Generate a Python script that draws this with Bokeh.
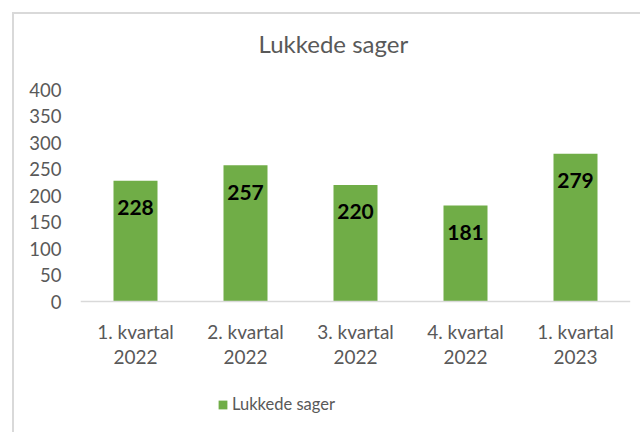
from bokeh.plotting import figure
from bokeh.models import ColumnDataSource, Range1d, FactorRange, LabelSet, Legend, LegendItem, FixedTicker, Label
from bokeh.core.properties import value
from bokeh.embed import file_html
from bokeh.resources import INLINE

categories = ["1. kvartal\n2022", "2. kvartal\n2022", "3. kvartal\n2022", "4. kvartal\n2022", "1. kvartal\n2023"]
values = [228, 257, 220, 181, 279]
y_ticks = [0, 50, 100, 150, 200, 250, 300, 350, 400]
series_name = "Lukkede sager"
title_text = "Lukkede sager"

src = ColumnDataSource(dict(cat=categories, val=values, lab=[str(v) for v in values]))

FONT = "Lato"
GREY = "#595959"

p = figure(width=628, height=420, output_backend="svg", toolbar_location=None,
           x_range=FactorRange(*categories, range_padding=0), y_range=Range1d(-232, 541.5),
           min_border_left=66, min_border_right=12, min_border_top=0, min_border_bottom=10)
p.styles = {"margin-left": "12px", "margin-top": "12px",
            "border-left": "2px solid #d9d9d9", "border-top": "2px solid #d9d9d9"}

p.outline_line_color = None
p.background_fill_color = "white"
p.border_fill_color = "white"
p.grid.grid_line_color = None

title = Label(text=title_text, x=178, y=381, x_units="screen", y_units="screen",
              text_align="left", text_baseline="middle",
              text_font=FONT, text_font_size="24px", text_color=GREY)
p.add_layout(title)

r = p.vbar(x="cat", top="val", width=0.4, source=src, fill_color="#70ad47", line_color=None)

labels = LabelSet(x="cat", y="val", text="lab", source=src, y_offset=-27,
                  text_align="center", text_baseline="middle",
                  text_font=value("Lato"), text_font_size=value("21px"),
                  text_font_style="bold", text_color="#000000")
p.add_layout(labels)

ya = p.yaxis[0]
ya.ticker = FixedTicker(ticks=y_ticks)
ya.axis_line_color = None
ya.major_tick_line_color = None
ya.minor_tick_line_color = None
ya.major_label_standoff = 13
ya.major_label_text_font = FONT
ya.major_label_text_font_size = "18.5px"
ya.major_label_text_color = GREY

xa = p.xaxis[0]
xa.fixed_location = 0
xa.axis_line_color = "#d9d9d9"
xa.axis_line_width = 1.5
xa.major_tick_line_color = None
xa.minor_tick_line_color = None
xa.major_label_standoff = 12
xa.major_label_text_font = FONT
xa.major_label_text_font_size = "19px"
xa.major_label_text_color = GREY
xa.major_label_text_line_height = 1.1

legend = Legend(items=[LegendItem(label=series_name, renderers=[r])],
                location=(137, 10), orientation="horizontal",
                border_line_color=None, background_fill_alpha=0,
                padding=0, margin=0, glyph_width=11, glyph_height=11, label_standoff=4,
                label_text_font=FONT, label_text_font_size="16.5px", label_text_color=GREY)
p.add_layout(legend, "center")

open("out.html", "w").write(file_html(p, INLINE))
